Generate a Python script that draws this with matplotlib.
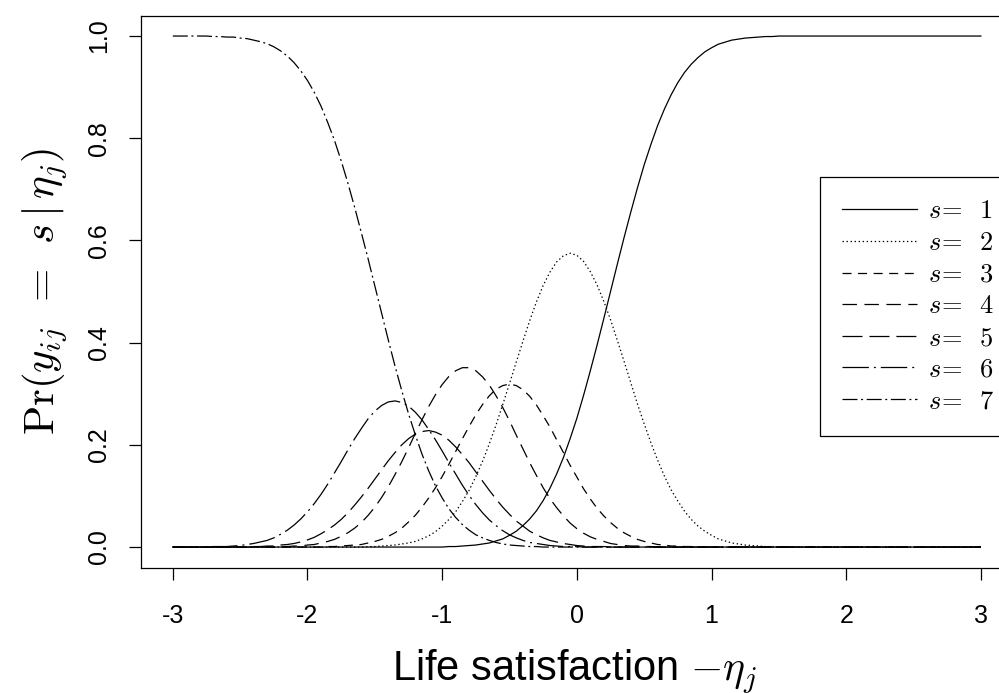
import numpy as np
import matplotlib
matplotlib.use('Agg')
import matplotlib.pyplot as plt

plt.rcParams['font.family'] = ['Liberation Sans', 'DejaVu Sans']
plt.rcParams['mathtext.fontset'] = 'cm'
plt.rcParams['lines.scale_dashes'] = False

# life satisfaction grid (-3 .. 3, step 0.05)
life_sat = np.linspace(-3, 3, 121)

# Pr(y = s | eta), in thousandths
p_s1 = [0] * 41 + [1, 1, 2, 3, 4, 6, 8, 12, 16, 23, 31, 42, 55, 71, 91, 115, 143, 175, 212, 252,
                   297, 345, 395, 447, 500, 553, 605, 655, 703, 748, 788, 825, 857, 885, 909, 929,
                   945, 958, 969, 977, 984, 988, 992, 994, 996, 997, 998, 999, 999] + [1000] * 31
p_s2 = [0] * 29 + [1, 1, 2, 3, 4, 6, 8, 11, 16, 22, 30, 41, 54, 69, 89, 111, 138, 168, 202, 239,
                   279, 320, 362, 403, 443, 480, 512, 538, 558, 570, 575, 571, 559, 539, 513, 481,
                   445, 405, 364, 322, 280, 241, 204, 170, 139, 112, 90, 70, 54, 41, 31, 23, 16,
                   12, 8, 6, 4, 3, 2, 1, 1] + [0] * 31
p_s3 = [0] * 23 + [1, 1, 2, 3, 4, 5, 8, 11, 15, 21, 28, 37, 49, 62, 78, 96, 116, 138, 162, 187,
                   212, 236, 259, 279, 296, 309, 316, 319, 316, 308, 295, 278, 257, 235, 210, 185,
                   160, 137, 114, 94, 76, 61, 48, 37, 28, 21, 15, 11, 8, 5, 4, 2, 2, 1, 1] + [0] * 43
p_s4 = [0] * 16 + [1, 1, 2, 2, 4, 5, 8, 11, 15, 21, 28, 37, 48, 62, 78, 97, 118, 142, 167, 194,
                   222, 249, 275, 298, 318, 334, 345, 351, 351, 345, 333, 317, 296, 273, 247, 219,
                   192, 165, 140, 116, 95, 77, 61, 47, 36, 27, 20, 15, 11, 7, 5, 3, 2, 2, 1, 1] + [0] * 49
p_s5 = [0] * 12 + [1, 1, 2, 2, 4, 5, 7, 10, 14, 19, 26, 34, 43, 54, 67, 82, 98, 115, 133, 151,
                   169, 185, 200, 212, 221, 226, 228, 225, 219, 209, 196, 181, 165, 147, 129, 111,
                   94, 78, 64, 51, 41, 31, 24, 18, 13, 10, 7, 5, 3, 2, 1, 1, 1] + [0] * 56
p_s6 = [0] * 6 + [1, 1, 1, 2, 3, 5, 7, 10, 13, 18, 25, 33, 43, 55, 69, 85, 103, 123, 145, 167,
                  190, 212, 232, 251, 266, 277, 284, 286, 283, 276, 264, 249, 230, 210, 188, 165,
                  143, 121, 101, 83, 67, 53, 42, 32, 24, 18, 13, 9, 7, 5, 3, 2, 1, 1, 1] + [0] * 60
p_s7 = [1000] * 6 + [999, 999, 998, 998, 996, 995, 992, 989, 985, 979, 971, 961, 948, 932, 913,
                     890, 863, 831, 796, 756, 712, 665, 615, 564, 511, 458, 405, 354, 306, 261, 220,
                     182, 149, 120, 96, 75, 58, 44, 33, 24, 18, 13, 9, 6, 4, 3, 2, 1, 1] + [0] * 66

series = [p_s1, p_s2, p_s3, p_s4, p_s5, p_s6, p_s7]
legend_labels = [r'$s\!=\;\;%d$' % k for k in range(1, 8)]
x_ticks = [-3, -2, -1, 0, 1, 2, 3]
x_ticklabels = ['-3', '-2', '-1', '0', '1', '2', '3']
y_ticks = [0, 0.2, 0.4, 0.6, 0.8, 1.0]
y_ticklabels = ['0.0', '0.2', '0.4', '0.6', '0.8', '1.0']

dashes = [None, (1.0, 1.9), (6.5, 4.7), (10.4, 5.4), (14.4, 5.0),
          (19.0, 3.6, 1.4, 3.6), (10.8, 2.6, 1.4, 2.6)]

fig = plt.figure(figsize=(9.99, 6.93), dpi=100)
ax = fig.add_axes([140.5 / 999, 125.5 / 693, 872.7 / 999, 551.9 / 693])
handles = []
for k, vals in enumerate(series):
    ln, = ax.plot(life_sat, np.array(vals) / 1000.0, color='black', lw=0.9)
    if dashes[k] is not None:
        ln.set_dashes(dashes[k])
    handles.append(ln)
ax.set_xlim(-3.24, 3.24)
ax.set_ylim(-0.04, 1.04)
ax.set_xticks(x_ticks)
ax.set_xticklabels(x_ticklabels)
ax.set_yticks(y_ticks)
ax.set_yticklabels(y_ticklabels, rotation=90, va='center')
ax.tick_params(length=8.5, width=0.9, labelsize=18)
ax.tick_params(axis='x', pad=18)
ax.tick_params(axis='y', pad=13)
for s in ax.spines.values():
    s.set_linewidth(0.9)
ax.set_xlabel(r'Life satisfaction $-\eta_j$', fontsize=30, va='baseline')
ax.xaxis.set_label_coords((575 - 140.5) / 872.7, (693 - 681 - 125.5) / 551.9)
ax.set_ylabel(r'$\mathrm{Pr}(y_{ij}\;\,=\;\,s\,|\,\eta_j)$', fontsize=31, va='center', ha='center')
ax.yaxis.set_label_coords((45 - 140.5) / 872.7, 0.5)
leg = ax.legend(handles, legend_labels, loc='upper left', bbox_to_anchor=(820 / 999, 1 - 177 / 693),
                bbox_transform=fig.transFigure, fancybox=False, edgecolor='black', framealpha=1,
                fontsize=19, handlelength=2.84, handletextpad=0.42, labelspacing=0.29,
                borderpad=0.85, borderaxespad=0)
leg.get_frame().set_linewidth(0.9)
fig.savefig('out.png', dpi=100)
